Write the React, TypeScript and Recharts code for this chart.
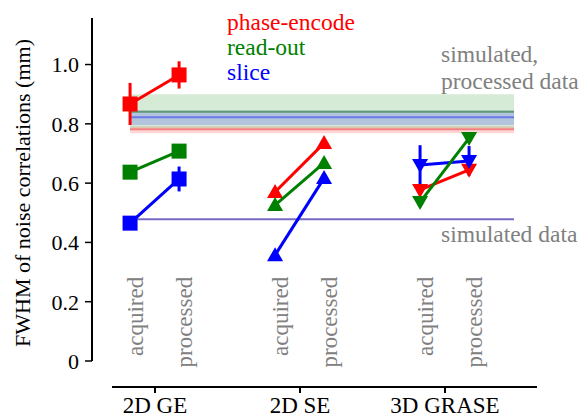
import React from "react";
import {
  ComposedChart,
  Scatter,
  XAxis,
  YAxis,
  ErrorBar,
  ReferenceArea,
  ReferenceLine,
} from "recharts";

const groups = ["2D GE", "2D SE", "3D GRASE"];
const conditions = ["acquired", "processed"];

// FWHM (mm) per group as [acquired, processed]
const phaseEncode = [[0.867, 0.965], [0.57, 0.735], [0.577, 0.645]];
const phaseEncodeErr = [[0.071, 0.046], [0, 0], [0, 0]];
const readOut = [[0.637, 0.708], [0.526, 0.668], [0.536, 0.752]];
const readOutErr = [[0, 0], [0, 0], [0, 0]];
const slice = [[0.465, 0.614], [0.357, 0.617], [0.661, 0.675]];
const sliceErr = [[0, 0.042], [0, 0], [0.067, 0.05]];

// simulated, processed data: phase-encode, read-out, slice
const simMean = [0.782, 0.841, 0.822];
const simLow = [0.768, 0.785, 0.796];
const simHigh = [0.792, 0.9, 0.845];
// simulated data (acquired)
const simAcquired = 0.478;

const yTicks = [0, 0.2, 0.4, 0.6, 0.8, 1.0];

const FONT = "Liberation Serif";
const GRAY = "#808080";
const X_DOMAIN: [number, number] = [0.5655, 3.6414];
const Y_DOMAIN: [number, number] = [-0.0877, 1.157];
const BAND_END = 3.476;
const LABEL_TOP = 0.284;

const xPos = (g: number, c: number) => g + 1 + (c === 0 ? -0.172 : 0.166);

const series = [
  { name: "phase-encode", color: "#ff0000", values: phaseEncode, errs: phaseEncodeErr },
  { name: "slice", color: "#0000ff", values: slice, errs: sliceErr },
  { name: "read-out", color: "#008000", values: readOut, errs: readOutErr },
];
const simColors = ["#ff0000", "#008000", "#0000ff"];
const simLineColors = ["#f08080", "#5f9a76", "#6a78e8"];
const markerKinds = ["square", "up", "down"];

function Marker({ cx, cy, kind, color }: any) {
  if (cx == null || cy == null) return null;
  if (kind === "square") {
    return <rect x={cx - 7.5} y={cy - 7.5} width={15} height={15} fill={color} />;
  }
  if (kind === "up") {
    return (
      <polygon
        points={`${cx},${cy - 8} ${cx - 8},${cy + 6} ${cx + 8},${cy + 6}`}
        fill={color}
      />
    );
  }
  return (
    <polygon
      points={`${cx - 8},${cy - 6} ${cx + 8},${cy - 6} ${cx},${cy + 8}`}
      fill={color}
    />
  );
}

function CondLabel({ cx, cy, payload }: any) {
  const x = cx + 13;
  return (
    <text
      x={x}
      y={cy}
      transform={`rotate(-90 ${x} ${cy})`}
      textAnchor="end"
      fontSize={23}
      fontFamily={FONT}
      fill={GRAY}
    >
      {payload.label}
    </text>
  );
}

const condLabelData = groups.flatMap((_, g) =>
  conditions.map((c, ci) => ({ x: xPos(g, ci), y: LABEL_TOP, label: c }))
);

export default function App() {
  const x0 = xPos(0, 0);
  return (
    <div style={{ position: "relative", width: 584, height: 418, fontFamily: FONT }}>
      <style>{`body{margin:0}`}</style>
      <ComposedChart
        width={584}
        height={418}
        margin={{ top: 18, right: 46, bottom: 0, left: 0 }}
        style={{ fontFamily: FONT }}
      >
        <XAxis
          type="number"
          dataKey="x"
          domain={X_DOMAIN}
          allowDataOverflow
          ticks={[1, 2, 3]}
          tickFormatter={(v: number) => groups[v - 1]}
          axisLine={false}
          tickSize={6}
          tickMargin={4}
          height={31}
          tickLine={{ stroke: "#000", strokeWidth: 2 }}
          tick={{ fill: "#000", fontSize: 23, fontFamily: FONT }}
        />
        <YAxis
          type="number"
          dataKey="y"
          domain={Y_DOMAIN}
          allowDataOverflow
          ticks={yTicks}
          tickFormatter={(v: number) => (v === 0 ? "0" : v.toFixed(1))}
          width={92}
          axisLine={false}
          tickSize={7}
          tickMargin={6}
          tickLine={{ stroke: "#000", strokeWidth: 1.5 }}
          tick={{ fill: "#000", fontSize: 22, fontFamily: FONT }}
        />

        {simColors.map((c, i) => (
          <ReferenceArea
            key={`band-${i}`}
            x1={x0}
            x2={BAND_END}
            y1={simLow[i]}
            y2={simHigh[i]}
            fill={c}
            fillOpacity={0.16}
            stroke="none"
            ifOverflow="visible"
          />
        ))}
        {simLineColors.map((c, i) => (
          <ReferenceLine
            key={`mean-${i}`}
            segment={[
              { x: x0, y: simMean[i] },
              { x: BAND_END, y: simMean[i] },
            ]}
            stroke={c}
            strokeWidth={2}
            ifOverflow="visible"
          />
        ))}
        <ReferenceLine
          segment={[
            { x: x0, y: simAcquired },
            { x: BAND_END, y: simAcquired },
          ]}
          stroke="#7a68c4"
          strokeWidth={2}
          ifOverflow="visible"
        />

        <ReferenceLine
          segment={[
            { x: X_DOMAIN[0], y: 0 },
            { x: X_DOMAIN[0], y: Y_DOMAIN[1] },
          ]}
          stroke="#000"
          strokeWidth={2}
          ifOverflow="visible"
        />
        <ReferenceLine
          segment={[
            { x: 0.7034, y: Y_DOMAIN[0] },
            { x: 3.6345, y: Y_DOMAIN[0] },
          ]}
          stroke="#000"
          strokeWidth={2}
          ifOverflow="visible"
        />

        <Scatter
          data={condLabelData}
          isAnimationActive={false}
          shape={(p: any) => <CondLabel {...p} />}
        />

        {series.flatMap((s) =>
          groups.map((_, g) => {
            const data = conditions.map((c, ci) => ({
              x: xPos(g, ci),
              y: s.values[g][ci],
              err: s.errs[g][ci],
            }));
            return (
              <Scatter
                key={`${s.name}-${g}`}
                name={s.name}
                data={data}
                fill={s.color}
                line={{ stroke: s.color, strokeWidth: 3 }}
                lineType="joint"
                isAnimationActive={false}
                shape={(p: any) => (
                  <Marker cx={p.cx} cy={p.cy} kind={markerKinds[g]} color={s.color} />
                )}
              >
                <ErrorBar
                  dataKey="err"
                  direction="y"
                  width={0}
                  stroke={s.color}
                  strokeWidth={3}
                />
              </Scatter>
            );
          })
        )}
      </ComposedChart>

      <svg
        width={584}
        height={418}
        style={{ position: "absolute", left: 0, top: 0, pointerEvents: "none" }}
      >
        <g fontFamily={FONT}>
          <text
            x={30}
            y={193}
            transform="rotate(-90 30 193)"
            textAnchor="middle"
            fontSize={22}
            fill="#000"
          >
            FWHM of noise correlations (mm)
          </text>
          <text x={227} y={30} fontSize={23.5} fill="#ff0000">phase-encode</text>
          <text x={227} y={55} fontSize={23.5} fill="#008000">read-out</text>
          <text x={227} y={80} fontSize={23.5} fill="#0000ff">slice</text>
          <text x={441} y={62} fontSize={23.5} fill={GRAY}>simulated,</text>
          <text x={441} y={89} fontSize={23.5} fill={GRAY}>processed data</text>
          <text x={441} y={242} fontSize={23.5} fill={GRAY}>simulated data</text>
        </g>
      </svg>
    </div>
  );
}
